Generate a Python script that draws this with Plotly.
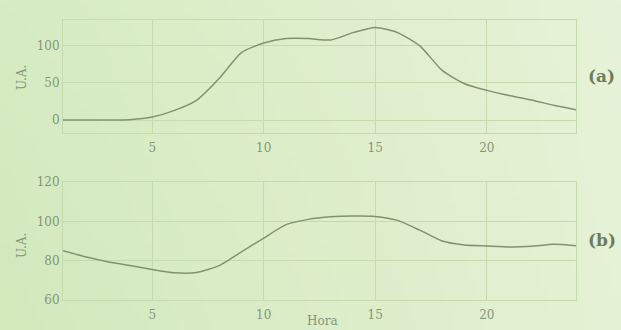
import base64
import struct
import zlib

import numpy as np
import plotly.graph_objects as go

# Hourly profiles, hours 1..24
hours = list(range(1, 25))
series_a = [0, 0, 0, 0.5, 4, 13, 27, 56, 91, 104, 110, 110,
            108, 118, 125, 118, 100, 67, 49, 40, 33, 27, 20, 14]
series_b = [85, 82, 79.5, 77.5, 75.5, 73.8, 74, 77.5, 84.5, 91.5, 98.3, 101,
            102.3, 102.7, 102.5, 100.5, 95.5, 90, 88, 87.5, 87, 87.3, 88.3, 87.6]

ticks_x = [5, 10, 15, 20]
ticks_a = [0, 50, 100]
ticks_b = [60, 80, 100, 120]

W, H = 621, 330
SERIF = "DejaVu Serif"
TEXT = "#84947a"
GRID = "#c6dbad"
LINE = "#82926f"


def gradient_png(w=96, h=48):
    """Soft green backdrop: a little deeper at lower left, paler toward the right."""
    xs = np.linspace(0, 1, w)[None, :]
    ys = np.linspace(0, 1, h)[:, None]
    left_top = np.array([215, 236, 194])
    right_top = np.array([231, 243, 216])
    left_bot = np.array([211, 233, 188])
    right_bot = np.array([229, 242, 213])
    top = left_top[None, None, :] * (1 - xs[..., None]) + right_top[None, None, :] * xs[..., None]
    bot = left_bot[None, None, :] * (1 - xs[..., None]) + right_bot[None, None, :] * xs[..., None]
    img = top * (1 - ys[..., None]) + bot * ys[..., None]
    img = np.clip(img, 0, 255).astype(np.uint8)
    raw = b"".join(b"\x00" + img[r].tobytes() for r in range(h))

    def chunk(tag, data):
        c = struct.pack(">I", len(data)) + tag + data
        return c + struct.pack(">I", zlib.crc32(tag + data) & 0xFFFFFFFF)

    png = b"\x89PNG\r\n\x1a\n"
    png += chunk(b"IHDR", struct.pack(">IIBBBBB", w, h, 8, 2, 0, 0, 0))
    png += chunk(b"IDAT", zlib.compress(raw, 9))
    png += chunk(b"IEND", b"")
    return "data:image/png;base64," + base64.b64encode(png).decode()


def px_x(p):
    return p / W


def px_y(p):
    return 1 - p / H


fig = go.Figure()
fig.add_trace(go.Scatter(x=hours, y=series_a, mode="lines", xaxis="x", yaxis="y",
                         line=dict(color=LINE, width=1.5, shape="spline", smoothing=0.6),
                         showlegend=False, hoverinfo="skip"))
fig.add_trace(go.Scatter(x=hours, y=series_b, mode="lines", xaxis="x2", yaxis="y2",
                         line=dict(color=LINE, width=1.5, shape="spline", smoothing=0.6),
                         showlegend=False, hoverinfo="skip"))

x_dom = [px_x(63), px_x(576)]
axis_common = dict(showgrid=True, gridcolor=GRID, gridwidth=1, zeroline=False,
                   showline=True, linecolor=GRID, linewidth=1, mirror=True,
                   ticks="", automargin=False,
                   tickfont=dict(family=SERIF, size=12, color=TEXT))
x_common = dict(domain=x_dom, range=[1, 24], tickvals=ticks_x, ticklabelstandoff=4, **axis_common)

label_font = dict(family=SERIF, size=12, color=TEXT)
tag_font = dict(family=SERIF, size=17, color="#6c7c5c")

fig.update_layout(
    width=W, height=H,
    margin=dict(l=0, r=0, t=0, b=0),
    paper_bgcolor="#dcedc6",
    plot_bgcolor="rgba(255,255,255,0.06)",
    xaxis=dict(anchor="y", **x_common),
    yaxis=dict(domain=[px_y(133), px_y(20)], range=[-17.5, 135], tickvals=ticks_a,
               anchor="x", **axis_common),
    xaxis2=dict(anchor="y2", **x_common),
    yaxis2=dict(domain=[px_y(300), px_y(182)], range=[60, 120], tickvals=ticks_b,
                anchor="x2", **axis_common),
    images=[dict(source=gradient_png(), xref="paper", yref="paper", x=0, y=1,
                 sizex=1, sizey=1, sizing="stretch", layer="below", xanchor="left",
                 yanchor="top")],
    annotations=[
        dict(text="U.A.", textangle=-90, x=px_x(22), y=px_y(78), xref="paper", yref="paper",
             xanchor="center", yanchor="middle", showarrow=False, font=label_font),
        dict(text="U.A.", textangle=-90, x=px_x(22), y=px_y(246), xref="paper", yref="paper",
             xanchor="center", yanchor="middle", showarrow=False, font=label_font),
        dict(text="Hora", x=px_x(322), y=px_y(321), xref="paper", yref="paper",
             xanchor="center", yanchor="middle", showarrow=False, font=label_font),
        dict(text="<b>(a)</b>", x=px_x(586), y=px_y(76), xref="paper", yref="paper",
             xanchor="left", yanchor="middle", showarrow=False, font=tag_font),
        dict(text="<b>(b)</b>", x=px_x(586), y=px_y(240), xref="paper", yref="paper",
             xanchor="left", yanchor="middle", showarrow=False, font=tag_font),
    ],
)

fig.write_html("out.html")
